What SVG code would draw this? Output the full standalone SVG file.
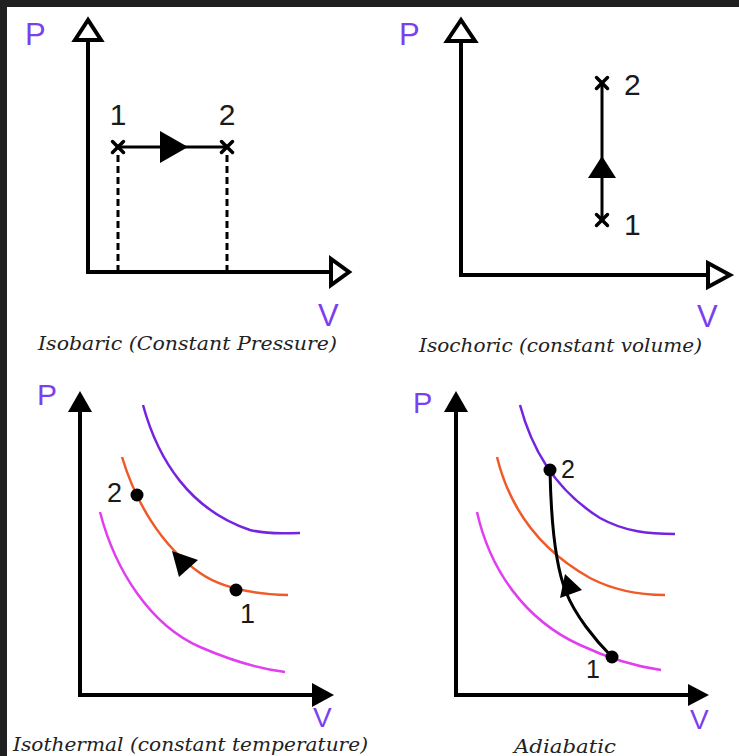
<svg xmlns="http://www.w3.org/2000/svg" width="739" height="756" viewBox="0 0 739 756">
<style>
.bg{fill:#ffffff}
.frame{fill:#202020}
.axis{stroke:#000;stroke-width:4;fill:none}
.open{fill:#fff;stroke:#000;stroke-width:4;stroke-linejoin:miter}
.solid{fill:#000;stroke:none}
.ax{font-family:"Liberation Sans",Arial,sans-serif;fill:#7b3ff2}
.num{font-family:"Liberation Sans",Arial,sans-serif;fill:#1a1a1a}
.cap{font-family:"DejaVu Serif","Liberation Serif",serif;font-style:italic;fill:#222;font-size:18px}
.proc{stroke:#000;stroke-width:3;fill:none}
.dash{stroke:#000;stroke-width:3;stroke-dasharray:7 4;fill:none}
.xm{stroke:#000;stroke-width:3.5;stroke-linecap:round}
.pur{stroke:#7424e0;stroke-width:2.5;fill:none}
.ora{stroke:#f05a28;stroke-width:2.5;fill:none}
.mag{stroke:#e13ef0;stroke-width:2.5;fill:none}
</style>
<rect class="bg" x="0" y="0" width="739" height="756"/>
<rect class="frame" x="0" y="0" width="739" height="7"/>
<rect class="frame" x="0" y="0" width="7" height="756"/>

<!-- Panel 1: Isobaric -->
<g id="isobaric">
  <line class="axis" x1="88" y1="40" x2="88" y2="272"/>
  <line class="axis" x1="86" y1="272" x2="331" y2="272"/>
  <polygon class="open" points="88,20 75,40 101,40"/>
  <polygon class="open" points="331,259 331,285 349,272"/>
  <text class="ax" x="25" y="45" font-size="31">P</text>
  <text class="ax" x="318" y="326" font-size="31">V</text>
  <g id="iso-connectors">
    <line class="proc" x1="118" y1="147" x2="227" y2="147"/>
    <polygon class="solid" points="160,131 160,163 188,147"/>
    <line class="dash" x1="118" y1="155" x2="118" y2="270"/>
    <line class="dash" x1="227" y1="155" x2="227" y2="270"/>
  </g>
  <g id="iso-p1">
    <line class="xm" x1="112.5" y1="141.5" x2="123.5" y2="152.5"/><line class="xm" x1="123.5" y1="141.5" x2="112.5" y2="152.5"/>
    <text class="num" x="118" y="125" font-size="30" text-anchor="middle">1</text>
  </g>
  <g id="iso-p2">
    <line class="xm" x1="221.5" y1="141.5" x2="232.5" y2="152.5"/><line class="xm" x1="232.5" y1="141.5" x2="221.5" y2="152.5"/>
    <text class="num" x="227" y="125" font-size="30" text-anchor="middle">2</text>
  </g>
  <text class="cap" x="38" y="350" textLength="299" lengthAdjust="spacingAndGlyphs">Isobaric (Constant Pressure)</text>
</g>

<!-- Panel 2: Isochoric -->
<g id="isochoric">
  <line class="axis" x1="461" y1="41" x2="461" y2="275"/>
  <line class="axis" x1="459" y1="275" x2="708" y2="275"/>
  <polygon class="open" points="461,20 447,41 475,41"/>
  <polygon class="open" points="708,263 708,287 730,275"/>
  <text class="ax" x="399" y="45" font-size="31">P</text>
  <text class="ax" x="697" y="327" font-size="31">V</text>
  <g id="isoc-connectors">
    <line class="proc" x1="602" y1="83" x2="602" y2="220"/>
    <polygon class="solid" points="602,156 588,178 616,178"/>
  </g>
  <g id="isoc-p2">
    <line class="xm" x1="596.5" y1="77.5" x2="607.5" y2="88.5"/><line class="xm" x1="607.5" y1="77.5" x2="596.5" y2="88.5"/>
    <text class="num" x="624" y="95" font-size="30">2</text>
  </g>
  <g id="isoc-p1">
    <line class="xm" x1="596.5" y1="214.5" x2="607.5" y2="225.5"/><line class="xm" x1="607.5" y1="214.5" x2="596.5" y2="225.5"/>
    <text class="num" x="624" y="235" font-size="30">1</text>
  </g>
  <text class="cap" x="419" y="352" textLength="283" lengthAdjust="spacingAndGlyphs">Isochoric (constant volume)</text>
</g>

<!-- Panel 3: Isothermal -->
<g id="isothermal">
  <line class="axis" x1="80" y1="410" x2="80" y2="695"/>
  <line class="axis" x1="78" y1="695" x2="314" y2="695"/>
  <polygon class="solid" points="80,391 68,412 92,412"/>
  <polygon class="solid" points="312,683 312,707 334,695"/>
  <text class="ax" x="37" y="405" font-size="30">P</text>
  <text class="ax" x="313" y="727" font-size="28">V</text>
  <path class="pur" d="M143,405 C158,460 190,510 250,530 C270,535 285,533 300,533"/>
  <path class="ora" d="M122,457 C135,500 160,545 200,573 C220,587 250,594 288,595"/>
  <path class="mag" d="M100,512 C115,570 150,625 200,647 C230,660 260,669 285,672"/>
  <g id="isot-connectors">
    <polygon class="solid" points="172,551 198,560 179,577"/>
  </g>
  <g id="isot-p2">
    <circle cx="137" cy="495" r="6.5" fill="#000"/>
    <text class="num" x="107" y="502" font-size="27">2</text>
  </g>
  <g id="isot-p1">
    <circle cx="236" cy="590" r="6.5" fill="#000"/>
    <text class="num" x="240" y="623" font-size="27">1</text>
  </g>
  <text class="cap" x="13" y="751" textLength="355" lengthAdjust="spacingAndGlyphs">Isothermal (constant temperature)</text>
</g>

<!-- Panel 4: Adiabatic -->
<g id="adiabatic">
  <line class="axis" x1="456" y1="410" x2="456" y2="695"/>
  <line class="axis" x1="454" y1="695" x2="690" y2="695"/>
  <polygon class="solid" points="456,391 444,412 468,412"/>
  <polygon class="solid" points="688,684 688,706 709,695"/>
  <text class="ax" x="413" y="413" font-size="29">P</text>
  <text class="ax" x="690" y="729" font-size="28">V</text>
  <path class="pur" d="M520,405 C532,450 555,490 600,518 C625,532 650,534 675,534"/>
  <path class="ora" d="M497,457 C510,510 540,550 590,578 C615,591 640,595 665,595"/>
  <path class="mag" d="M477,512 C490,570 525,620 580,645 C610,659 640,667 661,670"/>
  <g id="adia-connectors">
    <path class="proc" stroke-width="2.5" d="M550,470 C551,520 555,565 566,592 C575,615 595,640 612,657"/>
    <polygon class="solid" points="565,574 560,598 582,590"/>
  </g>
  <g id="adia-p2">
    <circle cx="550" cy="470" r="6.5" fill="#000"/>
    <text class="num" x="561" y="478" font-size="25">2</text>
  </g>
  <g id="adia-p1">
    <circle cx="612" cy="657" r="6.5" fill="#000"/>
    <text class="num" x="586" y="678" font-size="25">1</text>
  </g>
  <text class="cap" x="514" y="753" textLength="102" lengthAdjust="spacingAndGlyphs">Adiabatic</text>
</g>
</svg>
